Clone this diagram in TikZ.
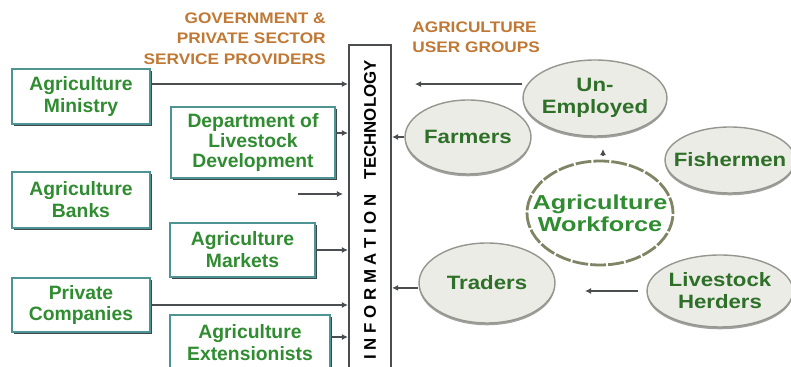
\documentclass[tikz,border=0pt]{standalone}
\usepackage{fontspec}
\setmainfont{Liberation Sans}
\newfontfamily\hdfont{Liberation Sans}[FakeStretch=1.13]
\newfontfamily\elfont{Liberation Sans}[FakeStretch=1.15]
\newfontfamily\wkfont{Liberation Sans}[FakeStretch=1.25]
\usetikzlibrary{shapes.geometric,shadows,arrows.meta}
\definecolor{hdbrown}{RGB}{192,120,52}
\definecolor{txgreen}{RGB}{48,140,48}
\definecolor{elgreen}{RGB}{46,112,40}
\definecolor{boxteal}{RGB}{78,148,148}
\definecolor{boxdark}{RGB}{62,72,74}
\definecolor{elfill}{RGB}{236,236,231}
\definecolor{eledge}{RGB}{150,150,145}
\definecolor{elshade}{RGB}{160,160,156}
\definecolor{wkedge}{RGB}{128,132,100}
\definecolor{lngray}{RGB}{75,78,80}
\newcommand{\ctr}[1]{\makebox[0pt]{#1}}

\begin{document}
\begin{tikzpicture}[x=0.02cm, y=-0.02cm,
    prov/.style={draw=boxteal, fill=white, line width=1.1pt, inner sep=0pt, align=center,
      drop shadow={shadow xshift=0.9pt, shadow yshift=-0.9pt, fill=boxdark, opacity=1},
      text=txgreen, font=\bfseries\fontsize{11}{12.5}\selectfont},
    grp/.style={ellipse, draw=eledge, fill=elfill, line width=0.8pt, inner sep=0pt, align=center,
      drop shadow={shadow xshift=0pt, shadow yshift=-1.3pt, fill=elshade, opacity=1},
      text=elgreen, font=\elfont\bfseries\fontsize{11}{12.5}\selectfont},
    head/.style={text=hdbrown, inner sep=0pt, font=\hdfont\bfseries\fontsize{8.7}{11.6}\selectfont},
    arr/.style={draw=lngray, line width=1.1pt, -{Latex[length=3.5pt,width=3.5pt]}}]

    \useasboundingbox (0,0) rectangle (791,367);
    \clip (0,0) rectangle (791,367);

    % headings
    \node[head, align=right, anchor=east] (gov) at (326,38.5) {GOVERNMENT \&\\PRIVATE SECTOR\\SERVICE PROVIDERS};
    \node[head, align=left, anchor=west] (usr) at (412,37) {AGRICULTURE\\USER GROUPS};

    % information technology bar
    \node[draw=lngray, fill=white, line width=1.2pt, minimum width=0.84cm, minimum height=6.6cm, inner sep=0pt,
      font=\bfseries\fontsize{9.6}{11}\selectfont] (it) at (370,210)
      {\rotatebox{90}{I N F O R M A T I O N\hspace{8.5pt}TECHNOLOGY}};

    % service providers
    \node[prov, minimum width=2.76cm, minimum height=1.10cm] (m) at (81,96.5) {Agriculture\\Ministry};
    \node[prov, minimum width=3.28cm, minimum height=1.42cm, font=\bfseries\fontsize{11}{11.4}\selectfont] (d) at (253,142.5) {Department of\\Livestock\\Development};
    \node[prov, minimum width=2.76cm, minimum height=1.12cm] (b) at (81,200) {Agriculture\\Banks};
    \node[prov, minimum width=2.90cm, minimum height=1.08cm] (k) at (242.5,250) {Agriculture\\Markets};
    \node[prov, minimum width=2.76cm, minimum height=1.08cm] (c) at (81,305) {Private\\Companies};
    \node[prov, minimum width=3.20cm, minimum height=1.12cm] (e) at (250,343) {Agriculture\\Extensionists};

    % user groups
    \node[grp, minimum width=2.88cm, minimum height=1.52cm] (u) at (595,98) {\ctr{Un-}\\\ctr{Employed}};
    \node[grp, minimum width=2.52cm, minimum height=1.48cm] (f) at (468,137) {\ctr{Farmers}};
    \node[grp, minimum width=2.60cm, minimum height=1.32cm] (s) at (730,160) {\ctr{Fishermen}};
    \node[ellipse, draw=wkedge, fill=white, line width=1.6pt, dash pattern=on 9pt off 1.2pt,
      minimum width=2.92cm, minimum height=2.08cm, inner sep=0pt, align=center, text=txgreen,
      font=\wkfont\bfseries\fontsize{11.5}{12.5}\selectfont] (w) at (600,213) {\ctr{Agriculture}\\\ctr{Workforce}};
    \node[grp, minimum width=2.72cm, minimum height=1.60cm] (t) at (487,283) {\ctr{Traders}};
    \node[grp, minimum width=2.92cm, minimum height=1.44cm] (h) at (720,291) {\ctr{Livestock}\\\ctr{Herders}};

    \coordinate (fa) at (298,194);
    \coordinate (fb) at (343,194);
    \coordinate (ua) at (415,98);
    \coordinate (wa) at (603,156);
    \coordinate (wb) at (603,149);
    \coordinate (ha) at (585,291);

    \draw [arr, transform canvas={yshift=7.1pt}] (m.east) to (m.east -| it.west);
    \draw [arr, transform canvas={yshift=5.4pt}] (d.east) to (d.east -| it.west);
    \draw [arr] (fa) to (fb);
    \draw [arr] (k.east) to (k.east -| it.west);
    \draw [arr] (c.east) to (c.east -| it.west);
    \draw [arr, transform canvas={yshift=3.4pt}] (e.east) to (e.east -| it.west);
    \draw [arr, transform canvas={yshift=7.9pt}] (u.west) to (ua);
    \draw [arr] (f.west) to (f.west -| it.east);
    \draw [arr] (wa) to (wb);
    \draw [arr, transform canvas={yshift=-2.8pt}] (t.west) to (t.west -| it.east);
    \draw [arr] ([xshift=-5pt]h.west) to (ha);

\end{tikzpicture}
\end{document}
